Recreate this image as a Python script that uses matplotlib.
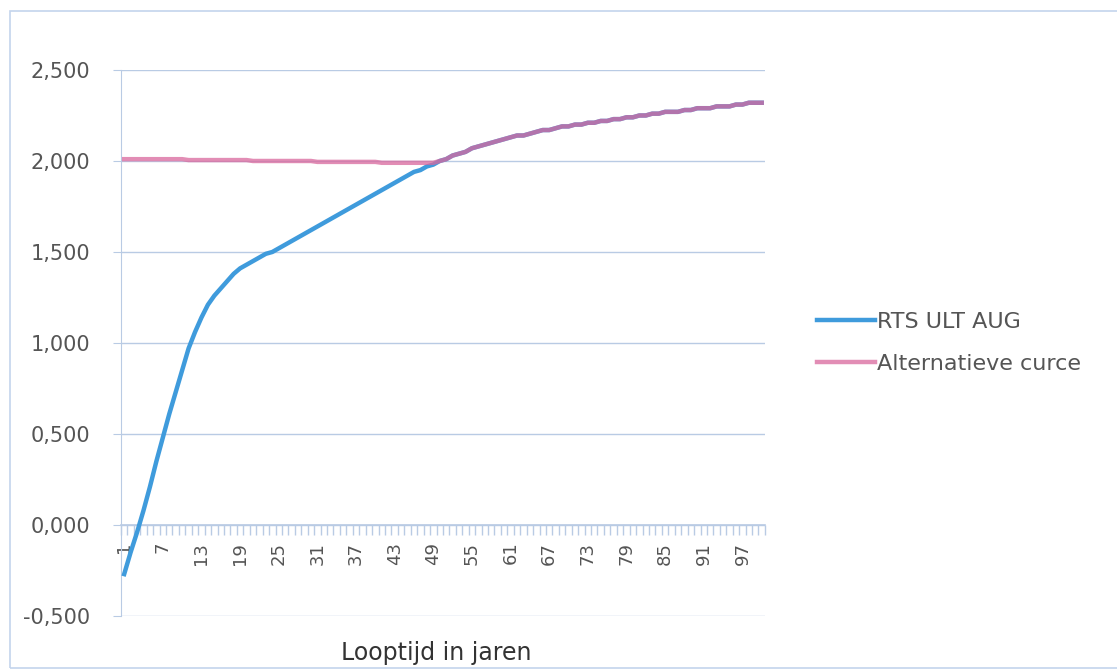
import matplotlib.pyplot as plt
from matplotlib.ticker import FuncFormatter, MultipleLocator
from matplotlib.patches import Rectangle

# looptijd in jaren (categorieen 1..100)
years = list(range(1, 101))

# RTS ULT AUG curve
rts_ult_aug = [
    -0.27, -0.15, -0.04, 0.08, 0.21, 0.35, 0.48, 0.61, 0.73, 0.85,
    0.97, 1.06, 1.14, 1.21, 1.26, 1.30, 1.34, 1.38, 1.41, 1.43,
    1.45, 1.47, 1.49, 1.50, 1.52, 1.54, 1.56, 1.58, 1.60, 1.62,
    1.64, 1.66, 1.68, 1.70, 1.72, 1.74, 1.76, 1.78, 1.80, 1.82,
    1.84, 1.86, 1.88, 1.90, 1.92, 1.94, 1.95, 1.97, 1.98, 2.00,
    2.01, 2.03, 2.04, 2.05, 2.07, 2.08, 2.09, 2.10, 2.11, 2.12,
    2.13, 2.14, 2.14, 2.15, 2.16, 2.17, 2.17, 2.18, 2.19, 2.19,
    2.20, 2.20, 2.21, 2.21, 2.22, 2.22, 2.23, 2.23, 2.24, 2.24,
    2.25, 2.25, 2.26, 2.26, 2.27, 2.27, 2.27, 2.28, 2.28, 2.29,
    2.29, 2.29, 2.30, 2.30, 2.30, 2.31, 2.31, 2.32, 2.32, 2.32,
]

# alternatieve curve: flat near 2.0, then follows RTS
alt_flat = [
    2.01, 2.01, 2.01, 2.01, 2.01, 2.01, 2.01, 2.01, 2.01, 2.01,
    2.005, 2.005, 2.005, 2.005, 2.005, 2.005, 2.005, 2.005, 2.005, 2.005,
    2.0, 2.0, 2.0, 2.0, 2.0, 2.0, 2.0, 2.0, 2.0, 2.0,
    1.995, 1.995, 1.995, 1.995, 1.995, 1.995, 1.995, 1.995, 1.995, 1.995,
    1.99, 1.99, 1.99, 1.99, 1.99, 1.99, 1.99, 1.99, 1.99,
]
alternatieve = alt_flat + rts_ult_aug[len(alt_flat):]

xtick_labels = [str(v) for v in range(1, 101, 6)]

blue = '#3f9bdc'
pink = '#d9679c'
grid_col = '#b9cbe4'
text_col = '#555555'

fig = plt.figure(figsize=(11.17, 6.71), dpi=100)
fig.patches.append(Rectangle((10 / 1117, 3 / 671), 1.2, 657 / 671, transform=fig.transFigure,
                             fill=False, edgecolor='#c4d4ec', linewidth=1.2))
ax = fig.add_axes([0.1083, 0.082, 0.5765, 0.8137])

ax.plot(years, rts_ult_aug, color=blue, linewidth=3.2, label='RTS ULT AUG', zorder=3)
ax.plot(years, alternatieve, color=pink, linewidth=3.2, alpha=0.75, label='Alternatieve curce', zorder=4)

ax.set_xlim(0.5, 100.5)
ax.set_ylim(-0.5, 2.5)
ax.yaxis.set_major_locator(MultipleLocator(0.5))
ax.yaxis.set_major_formatter(FuncFormatter(lambda v, p: f'{v:.3f}'.replace('.', ',')))
ax.grid(axis='y', color=grid_col, linewidth=1)
ax.set_axisbelow(True)

for s in ['top', 'right']:
    ax.spines[s].set_visible(False)
ax.spines['left'].set_color(grid_col)
ax.spines['bottom'].set_position(('data', 0))
ax.spines['bottom'].set_color(grid_col)
ax.spines['bottom'].set_linewidth(1.2)

# category boundary ticks along y=0, labels every 6th category
ax.set_xticks([i + 0.5 for i in range(0, 101)], minor=True)
ax.set_xticks(list(range(1, 101, 6)))
ax.set_xticklabels(xtick_labels, rotation=90)
ax.tick_params(axis='x', which='major', length=0, pad=12, labelsize=13, labelcolor=text_col)
ax.tick_params(axis='x', which='minor', length=7, width=1, color=grid_col, direction='out')
ax.tick_params(axis='y', length=6, color=grid_col, labelsize=15, labelcolor=text_col, pad=16)

ax.set_xlabel('Looptijd in jaren', fontsize=17, color='#333333')
ax.xaxis.set_label_coords(0.49, -0.045)

leg = ax.legend(loc='center left', bbox_to_anchor=(1.05, 0.5), frameon=False, fontsize=16,
                handlelength=2.6, handletextpad=0.1, labelspacing=1.0)
for t in leg.get_texts():
    t.set_color(text_col)

fig.savefig('out.png', dpi=100)
